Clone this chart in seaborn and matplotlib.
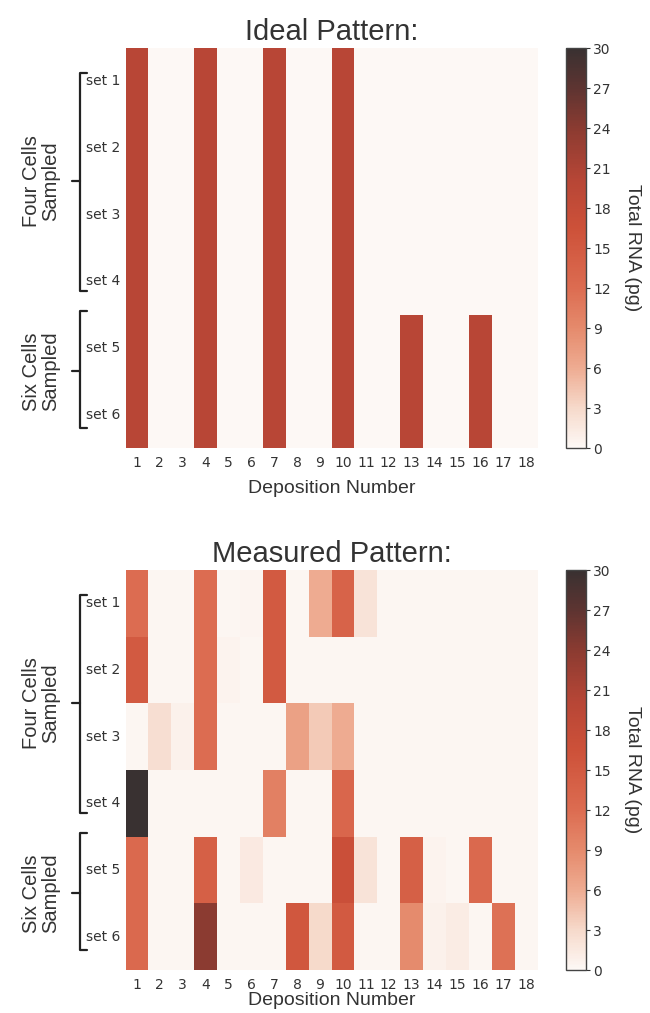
import numpy as np
import pandas as pd
import matplotlib
matplotlib.use("Agg")
import matplotlib.pyplot as plt
import seaborn as sns
from matplotlib.colors import LinearSegmentedColormap
from matplotlib.transforms import blended_transform_factory

# ---------------- data ----------------
set_labels = ["set 1", "set 2", "set 3", "set 4", "set 5", "set 6"]
deposition_labels = [str(i) for i in range(1, 19)]

ideal_set1 = [20, 0, 0, 20, 0, 0, 20, 0, 0, 20, 0, 0, 0, 0, 0, 0, 0, 0]
ideal_set2 = [20, 0, 0, 20, 0, 0, 20, 0, 0, 20, 0, 0, 0, 0, 0, 0, 0, 0]
ideal_set3 = [20, 0, 0, 20, 0, 0, 20, 0, 0, 20, 0, 0, 0, 0, 0, 0, 0, 0]
ideal_set4 = [20, 0, 0, 20, 0, 0, 20, 0, 0, 20, 0, 0, 0, 0, 0, 0, 0, 0]
ideal_set5 = [20, 0, 0, 20, 0, 0, 20, 0, 0, 20, 0, 0, 20, 0, 0, 20, 0, 0]
ideal_set6 = [20, 0, 0, 20, 0, 0, 20, 0, 0, 20, 0, 0, 20, 0, 0, 20, 0, 0]

measured_set1 = [12, 0.3, 0.3, 12, 0.3, 0.4, 15, 0.3, 6, 13.5, 2, 0.3, 0.3, 0.3, 0.3, 0.3, 0.3, 0.3]
measured_set2 = [15, 0.3, 0.3, 12, 0.5, 0.3, 15, 0.3, 0.3, 0.3, 0.3, 0.3, 0.3, 0.3, 0.3, 0.3, 0.3, 0.3]
measured_set3 = [0.3, 2.5, 0.8, 12, 0.3, 0.3, 0.3, 7, 4, 6, 0.3, 0.3, 0.3, 0.3, 0.3, 0.3, 0.3, 0.3]
measured_set4 = [30, 0.3, 0.3, 0.3, 0.3, 0.3, 10, 0.3, 0.3, 13, 0.3, 0.3, 0.3, 0.3, 0.3, 0.3, 0.3, 0.3]
measured_set5 = [12.5, 0.3, 0.3, 14, 0.3, 1.5, 0.3, 0.3, 0.3, 17, 2, 0.3, 14, 0.5, 0.3, 12.5, 0.3, 0.3]
measured_set6 = [12.5, 0.3, 0.3, 24, 0.3, 0.3, 0.3, 15.5, 3, 15, 0.3, 0.3, 9, 0.8, 1.2, 0.3, 11.5, 0.3]

cbar_ticks = [0, 3, 6, 9, 12, 15, 18, 21, 24, 27, 30]

ideal_df = pd.DataFrame([ideal_set1, ideal_set2, ideal_set3, ideal_set4, ideal_set5, ideal_set6],
                        index=set_labels, columns=deposition_labels)
measured_df = pd.DataFrame([measured_set1, measured_set2, measured_set3, measured_set4,
                            measured_set5, measured_set6],
                           index=set_labels, columns=deposition_labels)

# ---------------- style ----------------
sns.set_style("white")
plt.rcParams["font.family"] = ["Liberation Sans", "DejaVu Sans"]

cmap = LinearSegmentedColormap.from_list("rna", [
    (0.00, "#fdf8f5"),
    (0.10, "#f6d9ca"),
    (0.20, "#eeab91"),
    (0.30, "#e58a6c"),
    (0.40, "#dc6c51"),
    (0.55, "#cd5139"),
    (0.67, "#b74636"),
    (0.80, "#8b3b31"),
    (0.90, "#5e3431"),
    (1.00, "#393131"),
])

W, H = 650, 1013
fig = plt.figure(figsize=(W / 100, H / 100), dpi=100)
fig.patch.set_facecolor("white")

def fx(px):
    return px / W

def fy(py):
    return 1 - py / H

hm_left, hm_right = 125.5, 537.5
cb_left, cb_right = 566, 586

panels = [
    (ideal_df, "Ideal Pattern:", 48, 448, 7),
    (measured_df, "Measured Pattern:", 570, 970, 0),
]

text_col = "#333333"

for df, title, top, bottom, xlpad in panels:
    ax = fig.add_axes([fx(hm_left), fy(bottom), fx(hm_right - hm_left), (bottom - top) / H])
    cax = fig.add_axes([fx(cb_left), fy(bottom), fx(cb_right - cb_left), (bottom - top) / H])
    sns.heatmap(df, ax=ax, cbar_ax=cax, cmap=cmap, vmin=0, vmax=30,
                cbar_kws={"ticks": cbar_ticks})
    ax.set_title(title, fontsize=21, color=text_col, pad=6)
    ax.set_xlabel("Deposition Number", fontsize=14, color=text_col, labelpad=xlpad)
    ax.set_ylabel("")
    ax.tick_params(axis="both", length=0, colors=text_col)
    ax.set_xticklabels(deposition_labels, rotation=0, fontsize=10,
                       family="DejaVu Sans", color=text_col)
    ax.set_yticklabels(set_labels, rotation=0, fontsize=10,
                       family="DejaVu Sans", color=text_col)
    ax.tick_params(axis="y", pad=4)
    ax.tick_params(axis="x", pad=6)

    # colorbar styling
    cax.tick_params(length=3, width=0.8, colors=text_col, labelsize=10, pad=2)
    for lab in cax.get_yticklabels():
        lab.set_family("DejaVu Sans")
    cbar = ax.collections[0].colorbar
    cbar.outline.set_visible(True)
    cbar.outline.set_edgecolor("#444444")
    cbar.outline.set_linewidth(1.0)
    cax.set_ylabel("Total RNA (pg)", rotation=270, fontsize=14, color=text_col, labelpad=22)

    # group brackets
    tr = blended_transform_factory(fig.transFigure, ax.transData)
    xl = fx(80)
    hook = fx(7)
    tick = fx(8)
    for (y0, y1, ymid, label) in [(0.37, 3.64, 2.0, "Four Cells\nSampled"),
                                  (3.95, 5.70, 4.85, "Six Cells\nSampled")]:
        ax.plot([xl + hook, xl, xl, xl + hook], [y0, y0, y1, y1], transform=tr,
                color="#222222", lw=1.6, clip_on=False, solid_joinstyle="round")
        ax.plot([xl - tick, xl], [ymid, ymid], transform=tr,
                color="#222222", lw=1.6, clip_on=False)
        ax.text(fx(41), ymid, label, transform=tr, rotation=90, ha="center", va="center",
                fontsize=14.5, color=text_col, linespacing=1.0, multialignment="center")

fig.savefig("out.png", dpi=100, facecolor="white")
